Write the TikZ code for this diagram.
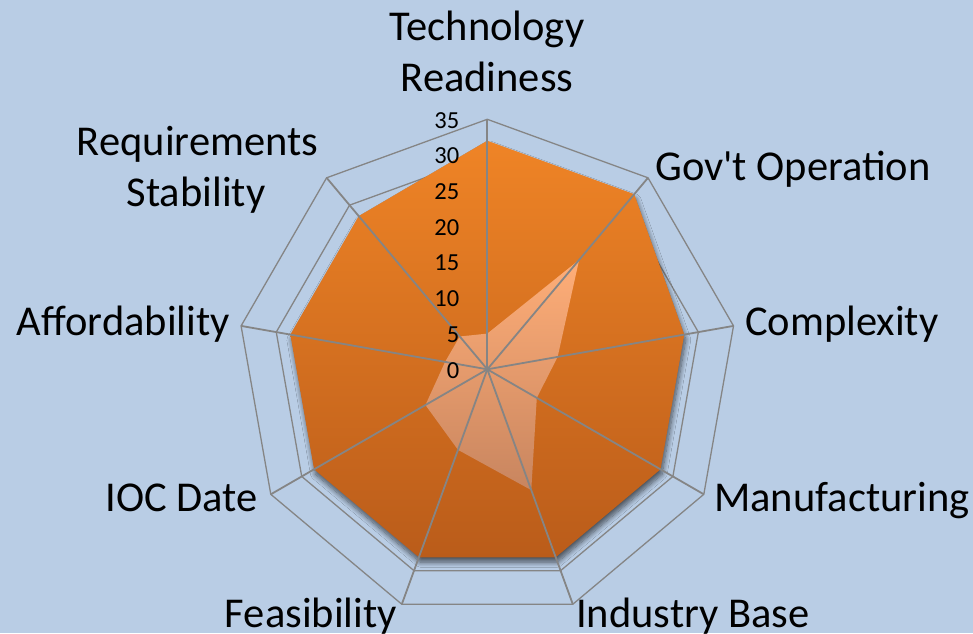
\documentclass[tikz,border=0pt]{standalone}
\usepackage{fontspec}
\setmainfont{Carlito}
\usetikzlibrary{shadows.blur}
\definecolor{bg}{HTML}{B9CDE5}
\definecolor{gridgray}{HTML}{858585}
\definecolor{orTop}{HTML}{EF8426}
\definecolor{orBot}{HTML}{BA5C1A}
\definecolor{ltTop}{HTML}{FFAE78}
\definecolor{ltBot}{HTML}{C8855F}
\begin{document}
\begin{tikzpicture}[x=1pt,y=-1pt,
  ring/.style={draw=gridgray,line width=1.3pt,line join=miter},
  spoke/.style={draw=gridgray,line width=1.8pt},
  mainseries/.style={top color=orTop,bottom color=orBot,
    blur shadow={shadow xshift=1.5pt,shadow yshift=-5pt,shadow blur steps=10,
      shadow blur radius=5pt,shadow opacity=60}},
  lightseries/.style={top color=ltTop,bottom color=ltBot},
  lbl/.style={font=\fontsize{42.5}{51}\selectfont,inner sep=0pt,text=black},
  tick/.style={font=\fontsize{24.5}{29}\selectfont,inner sep=0pt,anchor=east,text=black}
]
\useasboundingbox (0,0) rectangle (973,633);
\fill[bg] (0,0) rectangle (973,633);
% centre and unit (px per value)
\def\cx{487.3}\def\cy{369.3}\def\u{7.1429}
\coordinate (c) at (\cx,\cy);
% grid rings
\foreach \r in {5,10,...,35}{
  \foreach \i in {0,...,8}{
    \coordinate (g\r-\i) at ({\cx+\r*\u*sin(40*\i)},{\cy-\r*\u*cos(40*\i)});
  }
  \path[ring] (g\r-0) -- (g\r-1) -- (g\r-2) -- (g\r-3) -- (g\r-4) -- (g\r-5) -- (g\r-6) -- (g\r-7) -- (g\r-8) -- cycle;
}
% series 1 (orange)
\foreach \v [count=\i from 0] in {32,32,28,28,28,28,28,28,28}{
  \coordinate (a\i) at ({\cx+\v*\u*sin(40*\i)},{\cy-\v*\u*cos(40*\i)});
}
\path[mainseries] (a0) -- (a1) -- (a2) -- (a3) -- (a4) -- (a5) -- (a6) -- (a7) -- (a8) -- cycle;
% series 2 (light)
\foreach \v [count=\i from 0] in {5,20,10,8,18,12,10,6,6}{
  \coordinate (b\i) at ({\cx+\v*\u*sin(40*\i)},{\cy-\v*\u*cos(40*\i)});
}
\path[lightseries] (b0) -- (b1) -- (b2) -- (b3) -- (b4) -- (b5) -- (b6) -- (b7) -- (b8) -- cycle;
% spokes
\foreach \i in {0,...,8}{
  \draw[spoke] (c) -- (g35-\i);
}
% tick labels
\foreach \t in {0,5,...,35}{
  \node[tick] (t\t) at (459.5,{\cy-\t*\u+1}) {\t};
}
% axis labels
\node[lbl,anchor=base] (tr1) at (487,40) {Technology};
\node[lbl,anchor=base] (tr2) at (487,91) {Readiness};
\node[lbl,anchor=base west] (gov) at (655,180) {Gov\textquotesingle t Operation};
\node[lbl,anchor=base west] (cpx) at (745,335) {Complexity};
\node[lbl,anchor=base west] (man) at (714,511.7) {Manufacturing};
\node[lbl,anchor=base west] (ind) at (576,627) {Industry Base};
\node[lbl,anchor=base east] (fea) at (397,627) {Feasibility};
\node[lbl,anchor=base east] (ioc) at (258,511.7) {IOC Date};
\node[lbl,anchor=base east] (aff) at (230,335) {Affordability};
\node[lbl,anchor=base] (rs1) at (197.5,155) {Requirements};
\node[lbl,anchor=base] (rs2) at (196,206.7) {Stability};
\end{tikzpicture}
\end{document}
